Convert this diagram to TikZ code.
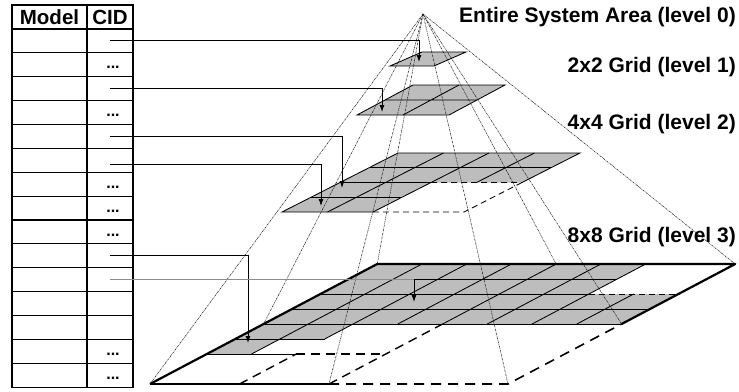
\documentclass[tikz,border=0pt]{standalone}
\usepackage{fontspec}
\setmainfont{Liberation Sans}
\usetikzlibrary{arrows.meta}

\tikzset{
  cell/.style={draw, line width=1.1pt, rectangle, minimum height=23.87pt, inner sep=0pt},
  modelcell/.style={cell, minimum width=75pt},
  cidcell/.style={cell, minimum width=46pt},
  headtext/.style={font=\fontsize{20.5}{24}\selectfont\bfseries},
  dotstext/.style={font=\fontsize{16}{18}\selectfont\bfseries, inner sep=0pt},
  levellabel/.style={font=\fontsize{21}{24}\selectfont\bfseries, anchor=east, inner sep=0pt},
  cellfill/.style={fill=black!26},
  gridline/.style={line width=0.85pt},
  hiddenedge/.style={line width=0.85pt, dash pattern=on 6pt off 4pt},
  rim/.style={line width=2.2pt, line join=round},
  ray/.style={line width=0.5pt, black!90, dash pattern=on 2pt off 0.8pt on 0.6pt off 0.8pt},
  link/.style={line width=0.9pt, -{Latex[length=7pt,width=5pt]}},
}

\begin{document}
\begin{tikzpicture}[x=1pt, y=-1pt]
\useasboundingbox (0,0) rectangle (739,391);

% table
\node[modelcell, headtext, minimum height=24pt] (modelhead) at (49.5,17) {Model};
\node[cidcell, headtext, minimum height=24pt] (cidhead) at (110,17) {CID};
\foreach \i in {1,...,15} {
  \node[modelcell] (model\i) at (49.5,{29+(\i-0.5)*23.87}) {};
  \node[cidcell] (cid\i) at (110,{29+(\i-0.5)*23.87}) {};
}
\foreach \i in {2,4,7,8,9,14,15}
  \node[dotstext] (dots\i) at ([xshift=3pt,yshift=-3pt]cid\i.center) {...};

% level 0
\begin{scope}[shift={(390,66)}, x={(44pt,0pt)}, y={(32pt,14pt)}]
  \fill[cellfill] (0,0) -- (1,0) -- (1,1) -- (0,1) -- cycle;
  \draw[gridline] (0,0) -- (1,0) -- (1,1) -- (0,1) -- cycle;
\end{scope}

% level 1
\begin{scope}[shift={(357,115)}, x={(46pt,0pt)}, y={(28pt,15pt)}]
  \fill[cellfill] (0,0) -- (2,0) -- (2,2) -- (0,2) -- cycle;
  \draw[gridline] (0,0) -- (2,0) -- (2,2) -- (0,2) -- cycle;
  \draw[gridline] (0,1) -- (2,1) (1,0) -- (1,2);
\end{scope}

% level 2
\begin{scope}[shift={(282,212)}, x={(45.5pt,0pt)}, y={(29pt,14.75pt)}]
  \fill[cellfill] (0,0) -- (2,0) -- (2,2) -- (4,2) -- (4,4) -- (0,4) -- cycle;
  \foreach \r/\b in {1/2, 2/2, 3/4}
    \draw[gridline] (0,\r) -- (\b,\r);
  \foreach \c/\a in {1/0, 2/0, 3/2}
    \draw[gridline] (\c,\a) -- (\c,4);
  \draw[gridline] (2,0) -- (0,0) -- (0,4) -- (4,4) -- (4,2);
  \draw[hiddenedge] (2,2) -- (4,2) (2,0) -- (4,0) -- (4,2);
\end{scope}

% level 3
\begin{scope}[shift={(150,384)}, x={(44.75pt,0pt)}, y={(28.4pt,15pt)}]
  \fill[cellfill] (0,2) -- (1,2) -- (1,3) -- (2,3) -- (2,4) -- (8,4) -- (8,6)
    -- (6,6) -- (6,8) -- (0,8) -- cycle;
  \foreach \r/\b in {2/2, 3/2, 4/8, 5/8, 6/6, 7/6}
    \draw[gridline] (0,\r) -- (\b,\r);
  \foreach \c/\a/\b in {1/2/8, 2/3/8, 3/4/8, 4/4/8, 5/4/8, 6/4/8, 7/4/6}
    \draw[gridline] (\c,\a) -- (\c,\b);
  \draw[hiddenedge] (6,6) -- (8,6);
  \draw[hiddenedge, line width=2.2pt, dash pattern=on 9pt off 6pt] (2,2) -- (4,2);
  \draw[hiddenedge, line width=1.4pt, dash pattern=on 9pt off 6pt]
    (2,0) -- (2,2) (4,0) -- (4,4);
  \draw[hiddenedge, line width=1.6pt, dash pattern=on 10pt off 7pt] (4,0) -- (8,0) -- (8,4);
  \draw[line width=1.4pt] (0,0) -- (4,0);
  \draw[rim] (8,4) -- (8,8) -- (0,8) -- (0,0);
  \coordinate (bl) at (0,0);
  \coordinate (ml) at (0,4);
  \coordinate (tl) at (0,8);
  \coordinate (bm) at (4,0);
  \coordinate (tm) at (4,8);
  \coordinate (br) at (8,0);
  \coordinate (mr) at (8,4);
  \coordinate (tr) at (8,8);
\end{scope}

% pyramid
\coordinate (apex) at (423,14);
\foreach \p in {bl, ml, tl, bm, tm, br, mr, tr}
  \draw[ray] (apex) -- (\p);

% labels
\node[levellabel] (lab0) at (736,17) {Entire System Area (level 0)};
\node[levellabel] (lab1) at (736,67) {2x2 Grid (level 1)};
\node[levellabel] (lab2) at (736,124) {4x4 Grid (level 2)};
\node[levellabel] (lab3) at (736,237) {8x8 Grid (level 3)};

% links from the table
\coordinate (t1) at (419,62);
\coordinate (t2) at (382,112);
\coordinate (t3) at (342,188);
\coordinate (t4) at (321,206);
\coordinate (t5) at (248,343);
\coordinate (t6) at (414,302);
\draw[link] (cid1.center) -| (t1);
\draw[link] (cid3.center) -| (t2);
\draw[link] (cid5.center) -| (t3);
\draw[link] ([yshift=-4pt]cid6.center) -| (t4);
\draw[link] (cid10.center) -| (t5);
\draw[line width=0.9pt, black!45] (cid11.center) -- (cid11.center -| t6);
\draw[link] (cid11.center -| t6) -- (t6);
\end{tikzpicture}
\end{document}
